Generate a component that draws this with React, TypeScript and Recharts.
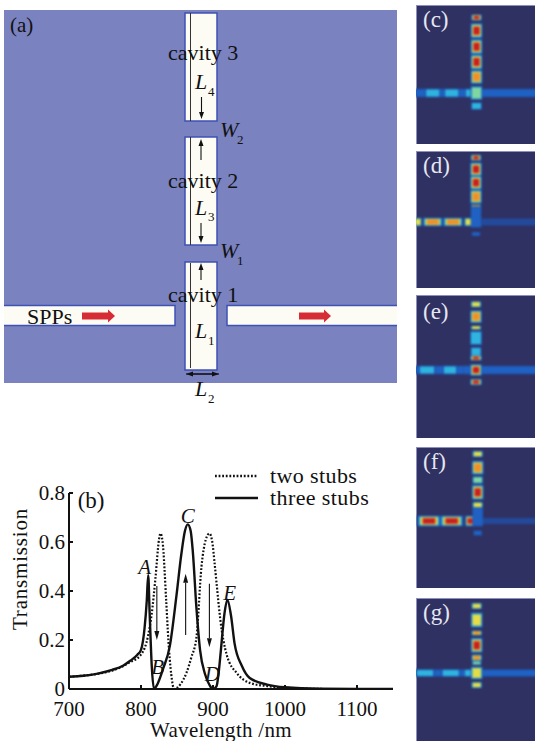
import {
  ComposedChart,
  Legend,
  Line,
  ReferenceArea,
  ReferenceDot,
  ReferenceLine,
  XAxis,
  YAxis,
} from 'recharts';

const SERIF = '"Liberation Serif", serif';

// --- panel (b): transmission spectra
const threeWl = [700, 720, 740, 760, 775, 785, 795, 800, 805, 808, 810, 812, 815, 818, 822, 831, 840, 849, 856, 861, 865, 869, 872, 877, 882, 889, 896, 900, 905, 908, 911, 916, 920, 925, 930, 940, 951, 975, 1000, 1050, 1100, 1150];
const threeT = [0.05, 0.054, 0.063, 0.078, 0.095, 0.115, 0.14, 0.16, 0.25, 0.36, 0.465, 0.31, 0.09, 0, 0.015, 0.085, 0.175, 0.375, 0.55, 0.645, 0.672, 0.645, 0.56, 0.33, 0.16, 0.06, 0.012, 0, 0.012, 0.07, 0.16, 0.31, 0.365, 0.3, 0.185, 0.095, 0.045, 0.018, 0.007, 0.001, 0, 0];
const twoWl = [700, 760, 785, 800, 810, 815, 820, 825, 827, 830, 835, 838, 842, 846, 850, 855, 863, 870, 877, 884, 890, 895, 899, 902, 906, 910, 919, 933, 951, 975, 1000, 1060, 1150];
const twoT = [0.05, 0.075, 0.11, 0.14, 0.22, 0.31, 0.45, 0.61, 0.635, 0.6, 0.36, 0.2, 0.06, 0, 0.005, 0.02, 0.065, 0.13, 0.21, 0.5, 0.61, 0.635, 0.6, 0.52, 0.4, 0.287, 0.14, 0.065, 0.025, 0.012, 0.005, 0, 0];
const xTicks = [700, 800, 900, 1000, 1100];
const yTicks = [0, 0.2, 0.4, 0.6, 0.8];
const spectrumLabels: [string, number, number][] = [
  ['A', 805, 0.497],
  ['B', 823, 0.09],
  ['C', 865, 0.705],
  ['D', 899, 0.06],
  ['E', 923, 0.39],
];
const spectrumArrows: [number, number, number][] = [
  [822, 0.42, 0.2],
  [862, 0.22, 0.47],
  [895, 0.43, 0.17],
];

// --- panel (a): structure outline, in picture pixels
const cavities: [number, number][] = [
  [262, 370],
  [137, 245],
  [13, 121],
];
const guides: [number, number][] = [
  [263, 368],
  [137, 245],
  [13, 121],
];
const waveguides: [number, number][] = [
  [2, 175],
  [227, 399],
];
const structureNotes: [string, number, number, number, boolean][] = [
  ['(a)', 10, 25, 21, false],
  ['cavity 3', 168, 52, 22, false],
  ['cavity 2', 168, 180, 22, false],
  ['cavity 1', 168, 294, 22, false],
  ['SPPs', 27, 316, 22, false],
  ['L', 195, 81, 22, true],
  ['4', 208, 91, 13, false],
  ['L', 195, 207, 22, true],
  ['3', 208, 216, 13, false],
  ['L', 195, 330, 22, true],
  ['1', 208, 340, 13, false],
  ['L', 195, 388, 22, true],
  ['2', 208, 398, 13, false],
  ['W', 220, 129, 22, true],
  ['2', 237, 139, 13, false],
  ['W', 220, 250, 22, true],
  ['1', 237, 260, 13, false],
];
const thinArrows: [number, number, number, number][] = [
  [201.5, 97, 201.5, 119],
  [201, 160, 201, 139],
  [201, 223, 201, 243],
  [201, 280, 201, 263],
  [186, 374, 219, 374],
  [219, 374, 186, 374],
];
const redArrows: [number, number][] = [
  [82, 115],
  [299, 331],
];

// --- panels (c)-(g): field spots as [centre x, centre y, width, height, level], picture pixels
type Spot = [number, number, number, number, number];
const heatLevels: [number, string][] = [
  [0.05, '#234a9a'],
  [0.2, '#1f62c4'],
  [0.33, '#2fb4e0'],
  [0.5, '#7fd6a0'],
  [0.65, '#e6dc46'],
  [0.8, '#f09028'],
  [0.93, '#c81e20'],
];
const panelC: Spot[] = [
  [476, 93, 140, 7, 0.2],
  [432.7, 93, 13, 7, 0.36],
  [451.7, 93, 13, 7, 0.36],
  [470, 93, 8, 7, 0.33],
  [476.5, 17.5, 9, 5, 0.95],
  [476.5, 30.7, 10, 13, 1],
  [476.5, 46.7, 10, 13, 1],
  [476.5, 62, 10, 13, 1],
  [476.5, 77, 10, 12, 0.85],
  [476.5, 93, 10, 12, 0.55],
  [476.5, 106, 9, 6, 0.48],
];
const panelD: Spot[] = [
  [506, 222, 66, 6, 0.05],
  [418, 222, 6, 7, 0.7],
  [432.7, 222, 17, 7, 0.85],
  [453, 222, 17, 7, 0.85],
  [469, 222, 8, 7, 0.7],
  [476, 157.7, 9, 5, 0.95],
  [476, 169.3, 10, 12, 1],
  [476, 182.7, 10, 12, 0.95],
  [476, 196.7, 10, 12, 0.9],
  [476, 207, 9, 4, 0.82],
  [476, 217, 9, 18, 0.2],
  [476, 234, 7, 3, 0.2],
];
const panelE: Spot[] = [
  [476, 370, 140, 7, 0.2],
  [427, 370, 14, 7, 0.33],
  [450, 370, 12, 7, 0.33],
  [468, 370, 8, 7, 0.3],
  [476, 304.3, 9, 5, 0.7],
  [476, 316.7, 10, 11, 0.82],
  [476, 327.7, 9, 3, 0.68],
  [476, 338, 10, 12, 0.36],
  [476, 352, 9, 8, 0.36],
  [476, 358, 10, 4, 0.95],
  [476, 370, 10, 10, 1],
  [476, 382, 10, 5, 0.95],
];
const panelF: Spot[] = [
  [506, 521, 66, 5, 0.05],
  [429, 521, 20, 9, 1],
  [451.7, 521, 20, 9, 1],
  [470, 521, 8, 9, 0.95],
  [477.7, 454, 9, 5, 0.7],
  [477.7, 467.7, 10, 12, 0.82],
  [477.7, 480, 9, 6, 0.52],
  [477.7, 492.3, 10, 13, 0.95],
  [477.7, 505, 9, 5, 0.78],
  [477.7, 517, 9, 16, 0.2],
  [477.7, 533, 7, 4, 0.2],
];
const panelG: Spot[] = [
  [476, 673, 140, 6, 0.22],
  [425, 673, 16, 6, 0.4],
  [450.7, 673, 16, 6, 0.4],
  [469, 673, 8, 6, 0.38],
  [476.7, 606, 9, 5, 0.7],
  [476.7, 620, 10, 13, 0.72],
  [476.7, 633, 9, 4, 0.85],
  [476.7, 645.3, 10, 13, 1],
  [476.7, 657.7, 9, 5, 0.9],
  [476.7, 663, 8, 3, 0.5],
  [476.7, 673, 10, 11, 0.72],
  [476.7, 685, 9, 5, 0.72],
];
const heatPanels: { label: string; top: number; bottom: number; labelY: number; spots: Spot[] }[] = [
  { label: '(c)', top: 5, bottom: 144, labelY: 20, spots: panelC },
  { label: '(d)', top: 151, bottom: 288, labelY: 166, spots: panelD },
  { label: '(e)', top: 295, bottom: 438, labelY: 312, spots: panelE },
  { label: '(f)', top: 447, bottom: 588, labelY: 462, spots: panelF },
  { label: '(g)', top: 598, bottom: 741, labelY: 613, spots: panelG },
];

function arrowShape(color: string, width: number, headLen: number, headWidth: number) {
  return (p: any) => {
    const dx = p.x2 - p.x1;
    const dy = p.y2 - p.y1;
    const len = Math.hypot(dx, dy) || 1;
    const ux = dx / len;
    const uy = dy / len;
    const bx = p.x2 - ux * headLen;
    const by = p.y2 - uy * headLen;
    const hw = headWidth / 2;
    return (
      <g>
        <line x1={p.x1} y1={p.y1} x2={bx} y2={by} stroke={color} strokeWidth={width} />
        <polygon
          points={`${p.x2},${p.y2} ${bx - uy * hw},${by + ux * hw} ${bx + uy * hw},${by - ux * hw}`}
          fill={color}
        />
      </g>
    );
  };
}

function textShape(text: string, size: number, italic: boolean, anchor: 'start' | 'middle' = 'start', fill = '#111') {
  return (p: any) => (
    <text
      x={p.cx}
      y={p.cy}
      fontFamily={SERIF}
      fontSize={size}
      fontStyle={italic ? 'italic' : 'normal'}
      textAnchor={anchor}
      dominantBaseline="central"
      fill={fill}
    >
      {text}
    </text>
  );
}

function SpectrumLegend() {
  const rows = [
    { name: 'two stubs', dash: '1.8 1.8' },
    { name: 'three stubs', dash: undefined },
  ];
  return (
    <div style={{ fontFamily: SERIF, fontSize: 22, letterSpacing: 0.4, color: '#111', lineHeight: '22px' }}>
      {rows.map((r) => (
        <div key={r.name} style={{ display: 'flex', alignItems: 'center', height: 22 }}>
          <svg width={43} height={6} style={{ marginRight: 12 }}>
            <line x1={0} y1={3} x2={43} y2={3} stroke="#111" strokeWidth={2.4} strokeDasharray={r.dash} />
          </svg>
          {r.name}
        </div>
      ))}
    </div>
  );
}

function SpectrumChart() {
  const threeRows = threeWl.map((x, i) => ({ x, y: threeT[i] }));
  const twoRows = twoWl.map((x, i) => ({ x, y: twoT[i] }));
  const axisTick = { fontSize: 21, fontFamily: SERIF, fill: '#111' };
  return (
    <div style={{ position: 'absolute', left: 0, top: 430 }}>
      <ComposedChart width={410} height={311} margin={{ top: 19, right: 17, bottom: 0, left: 9 }}>
        <XAxis
          dataKey="x"
          type="number"
          domain={[700, 1150]}
          ticks={xTicks}
          height={52}
          allowDataOverflow
          tick={axisTick}
          tickSize={-4}
          tickMargin={16}
          stroke="#111"
          strokeWidth={2}
          label={{
            value: 'Wavelength /nm',
            position: 'insideBottom',
            offset: 4,
            dx: -10,
            style: { fontSize: 21, fontFamily: SERIF, fill: '#111', letterSpacing: 0.3 },
          }}
        />
        <YAxis
          type="number"
          domain={[0, 0.8]}
          ticks={yTicks}
          width={60}
          allowDataOverflow
          tick={axisTick}
          tickFormatter={(v: number) => (v === 0 ? '0' : v.toFixed(1))}
          tickSize={-4}
          tickMargin={8}
          stroke="#111"
          strokeWidth={2}
          label={{
            value: 'Transmission',
            content: () => (
              <text
                transform="translate(20,139) rotate(-90)"
                textAnchor="middle"
                dominantBaseline="central"
                fontSize={21}
                fontFamily={SERIF}
                fill="#111"
                letterSpacing={0.8}
              >
                Transmission
              </text>
            ),
          }}
        />
        <Legend
          verticalAlign="top"
          align="left"
          content={<SpectrumLegend />}
          wrapperStyle={{ position: 'absolute', left: 215, top: 35, width: 'auto' }}
        />
        <Line
          data={twoRows}
          dataKey="y"
          name="two stubs"
          type="monotone"
          stroke="#111"
          strokeWidth={2.2}
          strokeDasharray="1.8 1.8"
          dot={false}
          isAnimationActive={false}
        />
        <Line
          data={threeRows}
          dataKey="y"
          name="three stubs"
          type="monotone"
          stroke="#111"
          strokeWidth={2.4}
          dot={false}
          isAnimationActive={false}
        />
        {spectrumArrows.map(([x, from, to]) => (
          <ReferenceLine
            key={x}
            segment={[
              { x, y: from },
              { x, y: to },
            ]}
            ifOverflow="visible"
            shape={arrowShape('#111', 1.1, 9, 5)}
          />
        ))}
        {spectrumLabels.map(([t, x, y]) => (
          <ReferenceDot
            key={t}
            x={x}
            y={y}
            r={0}
            ifOverflow="visible"
            shape={textShape(t, 21, true, 'middle')}
          />
        ))}
        <ReferenceDot x={712} y={0.77} r={0} ifOverflow="visible" shape={textShape('(b)', 23, false, 'start')} />
      </ComposedChart>
    </div>
  );
}

function StructureChart() {
  const outline = { stroke: '#3f52b4', strokeWidth: 1.5, fill: '#fdfcf4', fillOpacity: 1 };
  // invisible corner series, it only gives the hidden axes something to resolve against
  const extent = [
    { x: 0, y: 0 },
    { x: 410, y: 420 },
  ];
  return (
    <div style={{ position: 'absolute', left: 0, top: 0 }}>
      <ComposedChart width={410} height={420} margin={{ top: 0, right: 0, bottom: 0, left: 0 }}>
        <XAxis dataKey="x" type="number" domain={[0, 410]} hide />
        <YAxis type="number" domain={[0, 420]} reversed hide />
        <Line data={extent} dataKey="y" stroke="none" dot={false} isAnimationActive={false} />
        <ReferenceArea x1={4} x2={397} y1={10} y2={383} fill="#7a82c0" fillOpacity={1} />
        {waveguides.map(([a, b]) => (
          <ReferenceArea key={a} x1={a} x2={b} y1={305.5} y2={325.5} {...outline} />
        ))}
        <ReferenceArea x1={0} x2={4} y1={300} y2={330} fill="#ffffff" fillOpacity={1} />
        <ReferenceArea x1={397} x2={410} y1={300} y2={330} fill="#ffffff" fillOpacity={1} />
        {cavities.map(([a, b]) => (
          <ReferenceArea key={a} x1={185} x2={217} y1={a} y2={b} {...outline} />
        ))}
        {guides.map(([a, b]) => (
          <ReferenceLine
            key={a}
            segment={[
              { x: 190.5, y: a },
              { x: 190.5, y: b },
            ]}
            stroke="#333"
            strokeWidth={1}
          />
        ))}
        {thinArrows.map(([x1, y1, x2, y2], i) => (
          <ReferenceLine
            key={i}
            segment={[
              { x: x1, y: y1 },
              { x: x2, y: y2 },
            ]}
            shape={arrowShape('#111', 1.1, 7, 5)}
          />
        ))}
        {redArrows.map(([a, b]) => (
          <ReferenceLine
            key={a}
            segment={[
              { x: a, y: 316 },
              { x: b, y: 316 },
            ]}
            shape={arrowShape('#d62c35', 7, 7, 13)}
          />
        ))}
        {structureNotes.map(([t, x, y, size, italic], i) => (
          <ReferenceDot key={i} x={x} y={y} r={0} ifOverflow="visible" shape={textShape(t, size, italic)} />
        ))}
      </ComposedChart>
    </div>
  );
}

function HeatPanel({ label, top, bottom, labelY, spots }: (typeof heatPanels)[number]) {
  const height = bottom - top;
  const extent = [
    { x: 410, y: top },
    { x: 541, y: bottom },
  ];
  return (
    <div
      style={{
        position: 'absolute',
        left: 416,
        top,
        width: 119,
        height,
        overflow: 'hidden',
        background: '#2f3162',
        boxShadow: 'inset 1px 1px 0 #8d90bd',
      }}
    >
      <div style={{ position: 'absolute', left: -6, top: 0, filter: 'blur(1px)' }}>
        <ComposedChart width={131} height={height} margin={{ top: 0, right: 0, bottom: 0, left: 0 }}>
          <XAxis dataKey="x" type="number" domain={[410, 541]} hide />
          <YAxis type="number" domain={[top, bottom]} reversed hide />
          <Line data={extent} dataKey="y" stroke="none" dot={false} isAnimationActive={false} />
          {spots.flatMap(([cx, cy, w, h, level], i) =>
            heatLevels
              .filter(([min]) => level >= min)
              .map(([, color], k) => {
                const inset = 1.2 - k * 0.1;
                return (
                  <ReferenceArea
                    key={`${i}-${k}`}
                    x1={cx - (w * inset) / 2}
                    x2={cx + (w * inset) / 2}
                    y1={cy - (h * inset) / 2}
                    y2={cy + (h * inset) / 2}
                    fill={color}
                    fillOpacity={1}
                    ifOverflow="visible"
                  />
                );
              }),
          )}
        </ComposedChart>
      </div>
      <div
        style={{
          position: 'absolute',
          left: 7,
          top: labelY - top - 14,
          fontFamily: SERIF,
          fontSize: 23,
          lineHeight: '28px',
          color: '#e6e6f0',
        }}
      >
        {label}
      </div>
    </div>
  );
}

export default function App() {
  return (
    <div style={{ position: 'absolute', left: 0, top: 0, width: 535, height: 741, background: '#fff', overflow: 'hidden' }}>
      <StructureChart />
      <SpectrumChart />
      {heatPanels.map((p) => (
        <HeatPanel key={p.label} {...p} />
      ))}
    </div>
  );
}
